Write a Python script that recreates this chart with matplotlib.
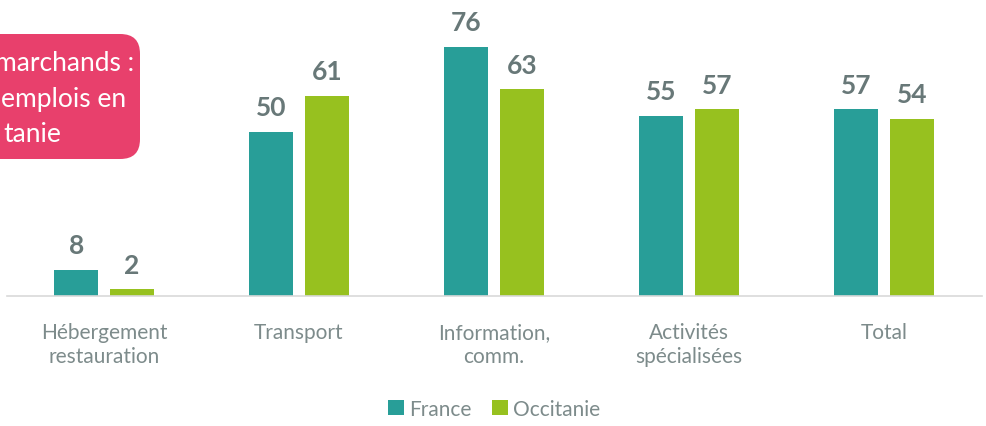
import numpy as np
import matplotlib.pyplot as plt
from matplotlib.patches import FancyBboxPatch

categories = ['Hébergement\nrestauration', 'Transport', 'Information,\ncomm.',
              'Activités\nspécialisées', 'Total']
france = [8, 50, 76, 55, 57]
occitanie = [2, 61, 63, 57, 54]
box_lines = ['marchands :', 'emplois en', 'tanie']

plt.rcParams['font.family'] = ['Lato', 'DejaVu Sans']

teal = '#289e98'
green = '#97c11f'
lab_col = '#687878'
tick_col = '#7d8b8b'

fig = plt.figure(figsize=(9.86, 4.27), dpi=100)
ax = fig.add_axes([6.5 / 986, 130 / 427, 975 / 986, 295.2 / 427])

x = np.arange(len(categories))
w = 0.226
off = 0.142
b1 = ax.bar(x - off, france, w, color=teal, label='France')
b2 = ax.bar(x + off, occitanie, w, color=green, label='Occitanie')

for bars, vals in ((b1, france), (b2, occitanie)):
    for r, v in zip(bars, vals):
        ax.annotate(f'{v}', (r.get_x() + r.get_width() / 2, v), xytext=(0, 9),
                    textcoords='offset points', ha='center', va='bottom',
                    fontsize=19, fontweight='bold', color=lab_col)

ax.set_xlim(-0.5, 4.5)
ax.set_ylim(0, 90)
ax.set_xticks(x)
ax.set_xticklabels(categories, fontsize=15, color=tick_col, linespacing=1.25)
ax.tick_params(axis='x', length=0, pad=19)
ax.set_yticks([])
for s in ('top', 'right', 'left'):
    ax.spines[s].set_visible(False)
ax.spines['bottom'].set_color('#d9d9d9')
ax.spines['bottom'].set_linewidth(1.2)

leg = fig.legend(handles=[b1, b2], loc='center', bbox_to_anchor=(494 / 986, 1 - 410 / 427),
                 ncol=2, frameon=False, fontsize=15, handlelength=0.75, handleheight=0.75,
                 handletextpad=0.25, columnspacing=1.0)
for t in leg.get_texts():
    t.set_color(tick_col)

# pink callout box, cut off at the left edge
box = FancyBboxPatch((-40 / 986, 1 - 160 / 427), 180 / 986, 125 / 427,
                     boxstyle='round,pad=0,rounding_size=0.02',
                     transform=fig.transFigure, facecolor='#e8406c', edgecolor='none',
                     mutation_aspect=986 / 427)
fig.patches.append(box)
for txt, xs, yc in zip(box_lines, (-5, 1, 3), (64, 99, 134)):
    fig.text(xs / 986, 1 - yc / 427, txt, color='white', fontsize=19,
             ha='left', va='center')

fig.savefig('out.png', dpi=100)
